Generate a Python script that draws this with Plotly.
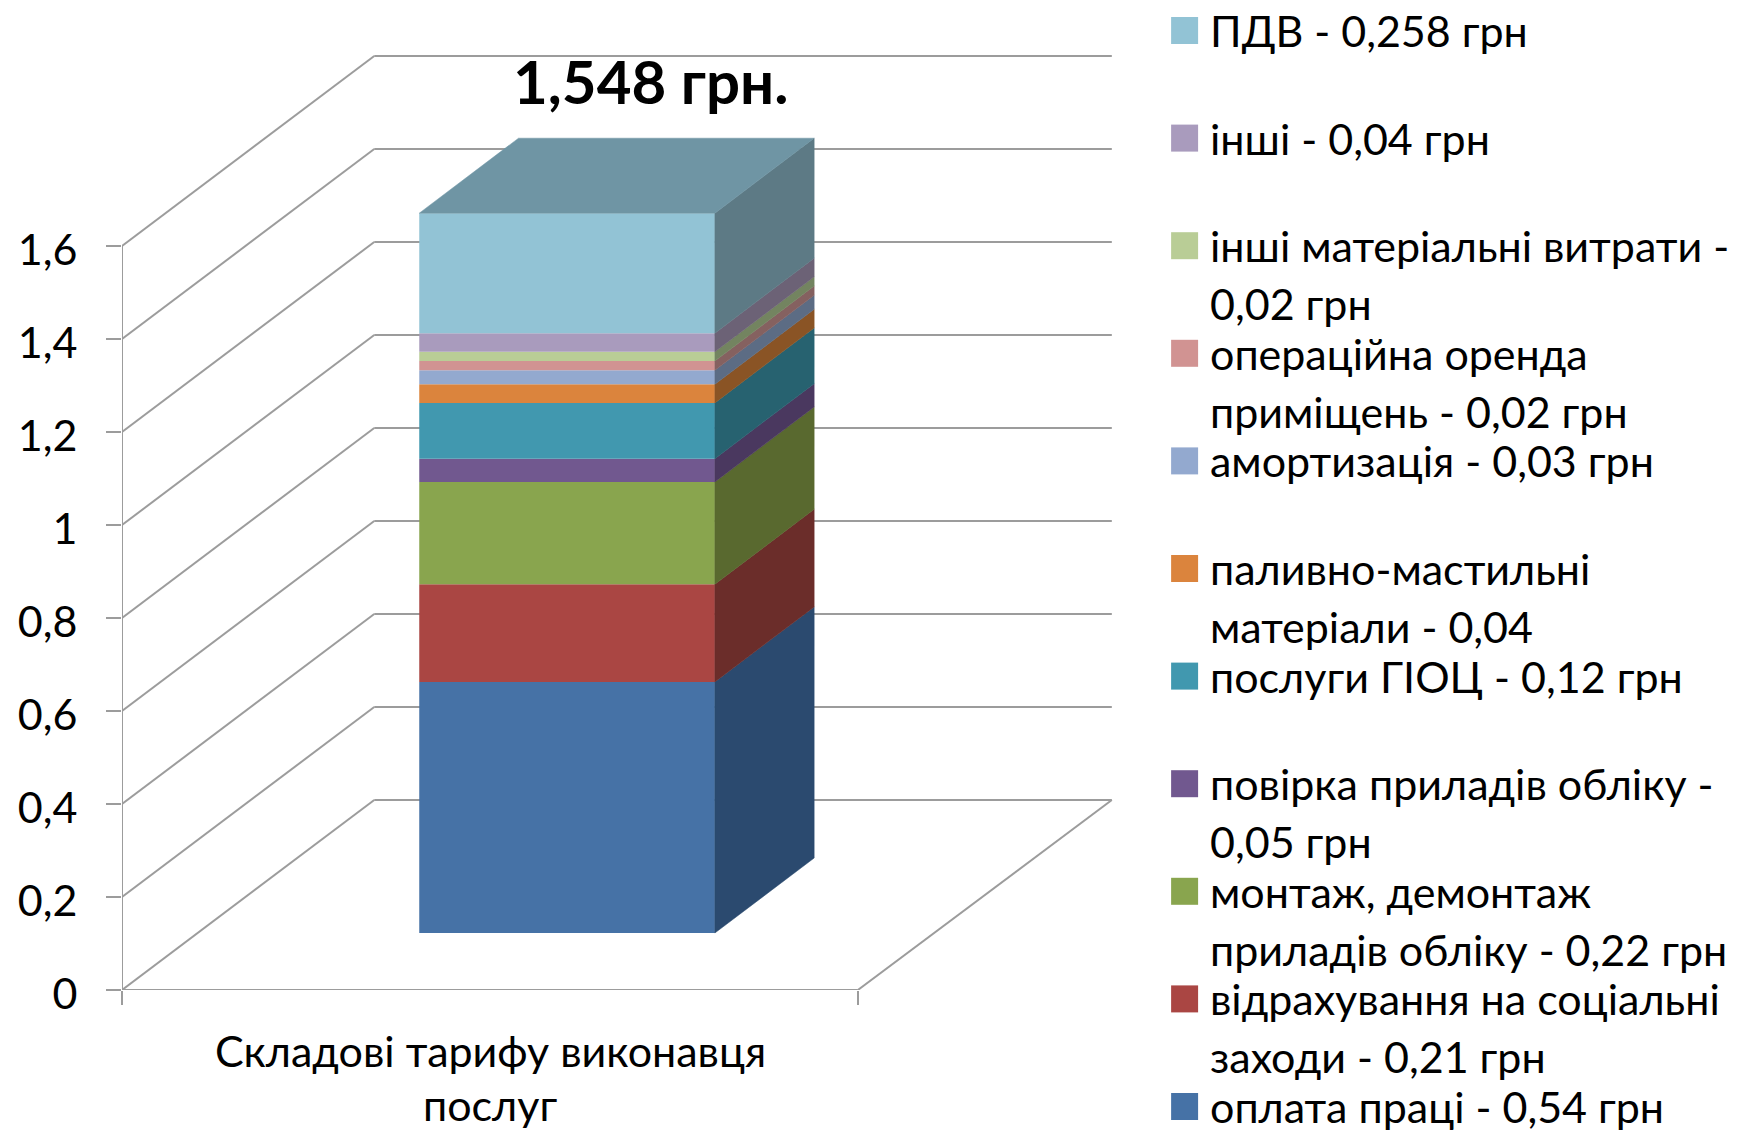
import plotly.graph_objects as go

categories = ["оплата праці", "відрахування на соціальні заходи", "монтаж, демонтаж приладів обліку",
              "повірка приладів обліку", "послуги ГІОЦ", "паливно-мастильні матеріали", "амортизація",
              "операційна оренда приміщень", "інші матеріальні витрати", "інші", "ПДВ"]
values = [0.54, 0.21, 0.22, 0.05, 0.12, 0.04, 0.03, 0.02, 0.02, 0.04, 0.258]
front_colors = ["#4672A6", "#AA4643", "#89A54E", "#71588F", "#4198AF", "#DB843D",
                "#93A9CF", "#D19392", "#B9CD96", "#A99BBD", "#92C3D5"]
side_colors = ["#2B4A6F", "#6B2D2A", "#59692F", "#4A385F", "#276270", "#8A5425",
               "#5C6C84", "#856160", "#738460", "#6C6276", "#5D7A85"]
top_color = "#6F95A4"
legend_lines = [["оплата праці - 0,54 грн"],
                ["відрахування на соціальні", "заходи - 0,21 грн"],
                ["монтаж, демонтаж", "приладів обліку - 0,22 грн"],
                ["повірка приладів обліку -", "0,05 грн"],
                ["послуги ГІОЦ - 0,12 грн"],
                ["паливно-мастильні", "матеріали - 0,04"],
                ["амортизація - 0,03 грн"],
                ["операційна оренда", "приміщень - 0,02 грн"],
                ["інші матеріальні витрати -", "0,02 грн"],
                ["інші - 0,04 грн"],
                ["ПДВ - 0,258 грн"]]
y_ticks = [0, 0.2, 0.4, 0.6, 0.8, 1, 1.2, 1.4, 1.6]
y_tick_labels = ["0", "0,2", "0,4", "0,6", "0,8", "1", "1,2", "1,4", "1,6"]
title_text = "1,548 грн."
x_label_lines = ["Складові тарифу виконавця", "послуг"]

FONT = "Lato, 'Open Sans', sans-serif"
TEXT_SIZE = 43
W, H = 1758, 1131
X0, Y0 = 121.7, 990.0      # pixel position of the axes origin
UNIT = 465.0               # pixels per 1.0 on the value axis
FLOOR_W = 736.0
WALL_DX, WALL_DY = 252.3, 190.0 / UNIT
BACK_R = 990.0
BAR_X, BAR_W = 297.3, 295.7
BAR_DX, BAR_DY = 99.3, 75.0 / UNIT
BAR_BASE = 57.0 / UNIT
GRID = "#9C9C9C"
GRID_W = 2


def ppaper(p):
    return (Y0 - p) / Y0


def px(p):
    return p - X0


fig = go.Figure()

shapes = []
for v in y_ticks:
    shapes.append(dict(type="line", x0=0, y0=v, x1=WALL_DX, y1=v + WALL_DY))
    shapes.append(dict(type="line", x0=WALL_DX, y0=v + WALL_DY, x1=BACK_R, y1=v + WALL_DY))
shapes.append(dict(type="line", x0=0, y0=0, x1=0, y1=y_ticks[-1]))
shapes.append(dict(type="line", x0=0, y0=0, x1=FLOOR_W, y1=0))
shapes.append(dict(type="line", x0=FLOOR_W, y0=0, x1=BACK_R, y1=WALL_DY))
for s in shapes:
    s.update(layer="below", xref="x", yref="y", line=dict(color=GRID, width=GRID_W))

base = BAR_BASE
for name, val, fc, sc in zip(categories, values, front_colors, side_colors):
    fig.add_trace(go.Bar(x=[BAR_X + BAR_W / 2], y=[val], base=[base], width=[BAR_W], name=name,
                         marker=dict(color=fc, line=dict(width=0)), showlegend=False))
    xr = BAR_X + BAR_W
    fig.add_trace(go.Scatter(
        x=[xr, xr + BAR_DX, xr + BAR_DX, xr, xr],
        y=[base, base + BAR_DY, base + val + BAR_DY, base + val, base],
        mode="lines", fill="toself", fillcolor=sc, line=dict(width=0.5, color=sc),
        showlegend=False, hoverinfo="skip"))
    base += val

xl = BAR_X
xr = BAR_X + BAR_W
fig.add_trace(go.Scatter(
    x=[xl, xl + BAR_DX, xr + BAR_DX, xr, xl],
    y=[base, base + BAR_DY, base + BAR_DY, base, base],
    mode="lines", fill="toself", fillcolor=top_color, line=dict(width=0.5, color=top_color),
    showlegend=False, hoverinfo="skip"))

ann = [dict(x=px(651), xref="x", y=ppaper(81), yref="paper", yanchor="middle", text=f"<b>{title_text}</b>",
            showarrow=False, font=dict(size=60, color="#000000", family=FONT))]
for y_pos, line in zip([1050, 1104], x_label_lines):
    ann.append(dict(x=px(490), xref="x", y=ppaper(y_pos), yref="paper", text=line, showarrow=False,
                    yanchor="middle", font=dict(size=TEXT_SIZE, color="#000000", family=FONT)))

for i, (lines, col) in enumerate(zip(legend_lines[::-1], front_colors[::-1])):
    cy = 30.5 + 107.6 * i
    shapes.append(dict(type="rect", xref="x", yref="paper", x0=px(1171), x1=px(1198),
                       y0=ppaper(cy - 13.5), y1=ppaper(cy + 13.5),
                       fillcolor=col, line=dict(width=0), layer="above"))
    for j, line in enumerate(lines):
        ann.append(dict(x=px(1208), xref="x", y=ppaper(cy + 58 * j), yref="paper", text=line, showarrow=False,
                        xanchor="left", yanchor="middle",
                        font=dict(size=TEXT_SIZE, color="#000000", family=FONT)))

fig.update_layout(
    width=W, height=H, paper_bgcolor="white", plot_bgcolor="white", barmode="overlay",
    margin=dict(l=X0, r=0, t=0, b=H - Y0, pad=0), shapes=shapes, annotations=ann,
    xaxis=dict(range=[0, W - X0], showgrid=False, zeroline=False, showline=False, tickvals=[0, FLOOR_W],
               ticktext=["", ""], ticks="outside", ticklen=14, tickcolor=GRID, tickwidth=GRID_W),
    yaxis=dict(range=[0, Y0 / UNIT], showgrid=False, zeroline=False, showline=False, tickvals=y_ticks,
               ticktext=y_tick_labels, ticks="outside", ticklen=15, tickcolor=GRID, tickwidth=GRID_W,
               ticklabelstandoff=20, ticklabelshift=4,
               tickfont=dict(size=TEXT_SIZE, color="#000000", family=FONT)),
    showlegend=False,
)
fig.write_html("out.html", config=dict(displayModeBar=False),
               post_script="document.body.style.margin='0';")
